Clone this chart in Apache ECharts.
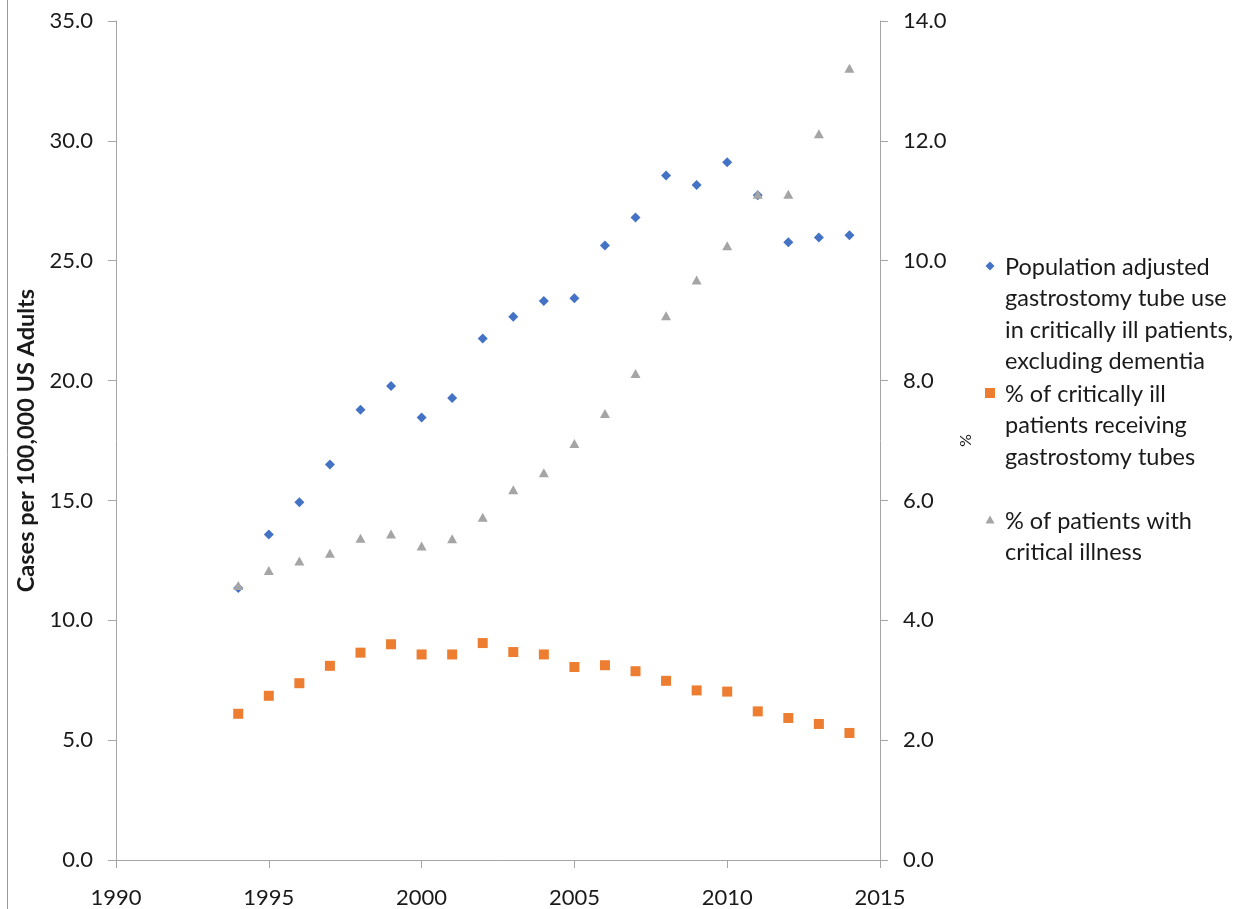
<!DOCTYPE html>
<html>
<head>
<meta charset="utf-8">
<title>Gastrostomy tube use in critically ill patients</title>
<script src="https://cdn.jsdelivr.net/npm/echarts@6/dist/echarts.min.js"></script>
<style>
  html, body { margin: 0; padding: 0; background: #ffffff; }
  #chart { width: 1252px; height: 909px; }
</style>
</head>
<body>
<div id="chart"></div>
<script>
// Survey years
const years = [1994, 1995, 1996, 1997, 1998, 1999, 2000, 2001, 2002, 2003, 2004,
               2005, 2006, 2007, 2008, 2009, 2010, 2011, 2012, 2013, 2014];

// Cases per 100,000 US adults (left axis)
const gtubeRate = [11.35, 13.58, 14.92, 16.50, 18.78, 19.77, 18.46, 19.27, 21.75, 22.66, 23.32,
                   23.43, 25.63, 26.80, 28.56, 28.16, 29.11, 27.73, 25.77, 25.97, 26.06];

// % of critically ill patients receiving gastrostomy tubes (right axis)
const pctReceiving = [2.44, 2.74, 2.95, 3.24, 3.46, 3.60, 3.43, 3.43, 3.62, 3.47, 3.43,
                      3.22, 3.25, 3.15, 2.99, 2.83, 2.81, 2.48, 2.37, 2.27, 2.12];

// % of patients with critical illness (right axis)
const pctCritical = [4.58, 4.83, 4.99, 5.12, 5.37, 5.44, 5.24, 5.36, 5.72, 6.18, 6.46,
                     6.95, 7.45, 8.12, 9.08, 9.68, 10.25, 11.11, 11.11, 12.12, 13.21];

// Series names and their wrapped legend text
const seriesNames = [
  'Population adjusted gastrostomy tube use in critically ill patients, excluding dementia',
  '% of critically ill patients receiving gastrostomy tubes',
  '% of patients with critical illness'
];
const legendLines = [
  ['Population adjusted', 'gastrostomy tube use', 'in critically ill patients,', 'excluding dementia'],
  ['% of critically ill', 'patients receiving', 'gastrostomy tubes'],
  ['% of patients with', 'critical illness']
];

const leftTitle = 'Cases per 100,000 US Adults';
const rightTitle = '%';

const FONT = 'Lato, "Open Sans", sans-serif';
const AXIS_GRAY = '#a6a6a6';
const TEXT = '#1a1a1a';
const COLORS = ['#4472c4', '#ed7d31', '#a5a5a5'];

const pairs = (vals) => years.map((y, i) => [y, vals[i]]);

// Legend drawn as graphic elements so each marker sits beside the first line of its entry
const LINE_H = 31.6;
const LEGEND_TEXT_X = 1005;
const LEGEND_ICON_X = 990;
const legendFirstLine = [267, 394, 521];

function legendIcon(i, cx, cy) {
  if (i === 0) {
    return { type: 'polygon', shape: { points: [[cx, cy - 4.5], [cx + 4.5, cy], [cx, cy + 4.5], [cx - 4.5, cy]] },
             style: { fill: COLORS[0] } };
  }
  if (i === 1) {
    return { type: 'rect', shape: { x: cx - 5, y: cy - 5, width: 10, height: 10 }, style: { fill: COLORS[1] } };
  }
  return { type: 'polygon', shape: { points: [[cx, cy - 4.5], [cx + 4.5, cy + 3.5], [cx - 4.5, cy + 3.5]] },
           style: { fill: COLORS[2] } };
}

const legendGraphics = [];
legendLines.forEach((lines, i) => {
  legendGraphics.push(legendIcon(i, LEGEND_ICON_X, legendFirstLine[i] - 1));
  legendGraphics.push({
    type: 'text',
    x: LEGEND_TEXT_X,
    y: legendFirstLine[i] - LINE_H / 2,
    style: {
      text: lines.join('\n'),
      fill: TEXT,
      font: '23.5px ' + FONT,
      lineHeight: LINE_H,
      verticalAlign: 'top',
      align: 'left'
    }
  });
});

const chart = echarts.init(document.getElementById('chart'), null, { renderer: 'canvas' });

chart.setOption({
  backgroundColor: '#ffffff',
  animation: false,
  color: COLORS,
  graphic: [{
    type: 'line',
    shape: { x1: 7.5, y1: 0, x2: 7.5, y2: 909 },
    style: { stroke: '#9a9a9a', lineWidth: 1 }
  }].concat(legendGraphics),
  grid: { left: 116, right: 372, top: 21, bottom: 47, containLabel: false },
  xAxis: {
    type: 'value',
    min: 1990,
    max: 2015,
    interval: 5,
    axisLine: { show: true, lineStyle: { color: AXIS_GRAY, width: 1 } },
    axisTick: { show: true, inside: false, length: 8, lineStyle: { color: AXIS_GRAY } },
    splitLine: { show: false },
    axisLabel: { color: TEXT, fontFamily: FONT, fontSize: 22, margin: 27, formatter: (v) => String(v) }
  },
  yAxis: [{
    type: 'value',
    position: 'left',
    min: 0,
    max: 35,
    interval: 5,
    name: leftTitle,
    nameLocation: 'middle',
    nameGap: 77,
    nameRotate: 90,
    nameTextStyle: { color: TEXT, fontFamily: FONT, fontSize: 23.5, fontWeight: 'bold' },
    axisLine: { show: true, lineStyle: { color: AXIS_GRAY, width: 1 } },
    axisTick: { show: true, inside: false, length: 8, lineStyle: { color: AXIS_GRAY } },
    splitLine: { show: false },
    axisLabel: { color: TEXT, fontFamily: FONT, fontSize: 22, margin: 23, formatter: (v) => v.toFixed(1) }
  }, {
    type: 'value',
    position: 'right',
    min: 0,
    max: 14,
    interval: 2,
    name: rightTitle,
    nameLocation: 'middle',
    nameGap: 77,
    nameRotate: -90,
    nameTextStyle: { color: TEXT, fontFamily: FONT, fontSize: 16 },
    axisLine: { show: true, lineStyle: { color: AXIS_GRAY, width: 1 } },
    axisTick: { show: true, inside: false, length: 8, lineStyle: { color: AXIS_GRAY } },
    splitLine: { show: false },
    axisLabel: { color: TEXT, fontFamily: FONT, fontSize: 22, margin: 23, formatter: (v) => v.toFixed(1) }
  }],
  series: [{
    name: seriesNames[0],
    type: 'scatter',
    yAxisIndex: 0,
    symbol: 'diamond',
    symbolSize: [10, 10],
    itemStyle: { color: COLORS[0], opacity: 1 },
    data: pairs(gtubeRate),
    z: 2
  }, {
    name: seriesNames[1],
    type: 'scatter',
    yAxisIndex: 1,
    symbol: 'rect',
    symbolSize: [10, 10],
    itemStyle: { color: COLORS[1], opacity: 1 },
    data: pairs(pctReceiving),
    z: 3
  }, {
    name: seriesNames[2],
    type: 'scatter',
    yAxisIndex: 1,
    symbol: 'triangle',
    symbolSize: [10, 9],
    itemStyle: { color: COLORS[2], opacity: 1 },
    data: pairs(pctCritical),
    z: 4
  }]
});
</script>
</body>
</html>
